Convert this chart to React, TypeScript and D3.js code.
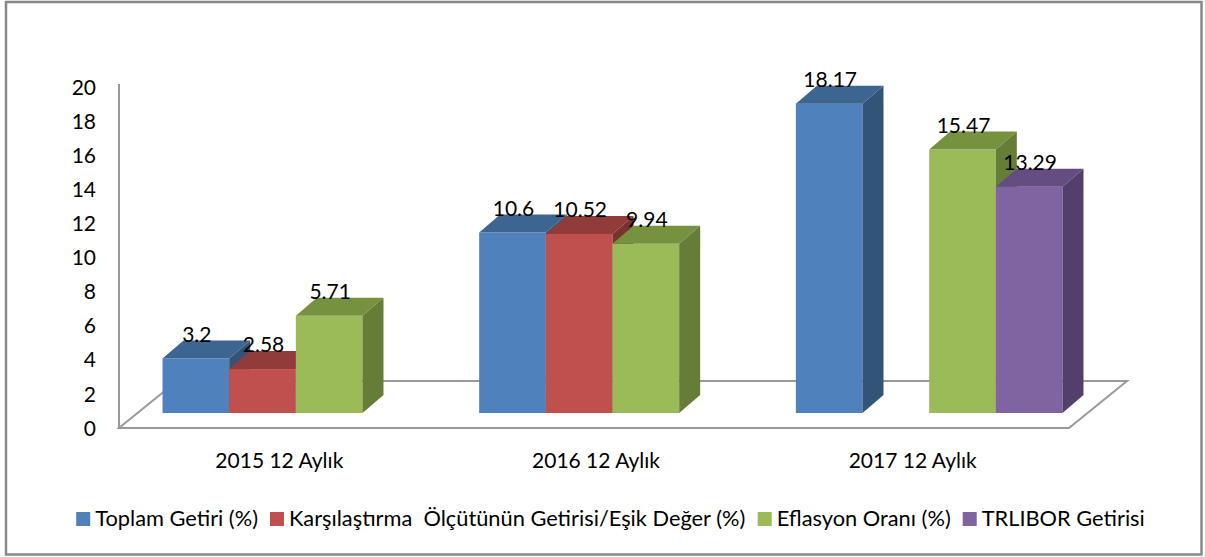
import React from "react";
import * as d3 from "d3";

const categories = ["2015 12 Aylık", "2016 12 Aylık", "2017 12 Aylık"];
const seriesNames = [
  "Toplam Getiri (%)",
  "Karşılaştırma  Ölçütünün Getirisi/Eşik Değer (%)",
  "Eflasyon Oranı (%)",
  "TRLIBOR Getirisi",
];
const toplamGetiri: (number | null)[] = [3.2, 10.6, 18.17];
const karsilastirma: (number | null)[] = [2.58, 10.52, null];
const eflasyon: (number | null)[] = [5.71, 9.94, 15.47];
const trlibor: (number | null)[] = [null, null, 13.29];
const seriesValues = [toplamGetiri, karsilastirma, eflasyon, trlibor];
const tickValues = [0, 2, 4, 6, 8, 10, 12, 14, 16, 18, 20];

const frontColors = ["#4F81BD", "#C0504D", "#9BBB59", "#8064A2"];
const topColors = ["#3D6592", "#913C3A", "#77923F", "#644E81"];
const sideColors = ["#335479", "#7A3230", "#657D36", "#52406A"];

const FONT = "Lato, 'Open Sans', sans-serif";
const FS_LABEL = 21;
const FS_TICK = 21;
const FS_CAT = 21;
const FS_LEG = 21.8;

function measure(text: string, size: number) {
  const c = document.createElement("canvas");
  const ctx = c.getContext("2d")!;
  ctx.font = `${size}px Lato`;
  return ctx.measureText(text).width;
}

export default function App() {
  const W = 1205;
  const H = 557;
  const xCat = d3
    .scaleBand<string>()
    .domain(categories)
    .range([137.5, 1087.5])
    .paddingInner(0.158)
    .paddingOuter(0.079);
  const xSer = d3
    .scaleBand<string>()
    .domain(seriesNames)
    .range([0, xCat.bandwidth()])
    .padding(0);
  const yBar = d3.scaleLinear().domain([0, 20]).range([413, 72.5]);
  const yAxis = d3.scaleLinear().domain([0, 20]).range([428, 87.5]);

  const dx = 21;
  const dy = -18;
  const base = yBar(0);
  const fl = 137.5 - 18.5;
  const fr = 1087.5 - 18.5;
  const ff = base + 15;
  const bl = 137.5 + 39.5;
  const br = 1087.5 + 39.5;
  const bb = base - 32;

  const bars: JSX.Element[] = [];
  const labels: JSX.Element[] = [];
  categories.forEach((cat, ci) => {
    seriesNames.forEach((s, si) => {
      const v = seriesValues[si][ci];
      if (v == null) return;
      const x0 = (xCat(cat) as number) + (xSer(s) as number);
      const w = xSer.bandwidth();
      const yt = yBar(v);
      const key = `${ci}-${si}`;
      bars.push(
        <g key={key}>
          <rect x={x0} y={yt} width={w} height={base - yt} fill={frontColors[si]} />
          <polygon
            points={`${x0},${yt} ${x0 + dx},${yt + dy} ${x0 + w + dx},${yt + dy} ${x0 + w},${yt}`}
            fill={topColors[si]}
          />
          <polygon
            points={`${x0 + w},${yt} ${x0 + w + dx},${yt + dy} ${x0 + w + dx},${base + dy} ${x0 + w},${base}`}
            fill={sideColors[si]}
          />
        </g>
      );
      labels.push(
        <text
          key={"l" + key}
          x={x0 + w / 2 + 1}
          y={yt + dy + 1}
          textAnchor="middle"
          fontSize={FS_LABEL}
          fontFamily={FONT}
          fill="#000"
        >
          {String(v)}
        </text>
      );
    });
  });

  const sq = 14;
  const gapSqText = 5;
  const gapItem = 12;
  const widths = seriesNames.map((n) => measure(n, FS_LEG));
  const total =
    widths.reduce((a, b) => a + b, 0) +
    seriesNames.length * (sq + gapSqText) +
    (seriesNames.length - 1) * gapItem;
  let lx = 610.5 - total / 2;
  const legend = seriesNames.map((n, i) => {
    const x = lx;
    lx += sq + gapSqText + widths[i] + gapItem;
    return (
      <g key={"lg" + i}>
        <rect x={x} y={512} width={sq} height={sq} fill={frontColors[i]} />
        <text
          x={x + sq + gapSqText}
          y={526}
          fontSize={FS_LEG}
          fontFamily={FONT}
          fill="#000"
          style={{ whiteSpace: "pre" }}
        >
          {n}
        </text>
      </g>
    );
  });

  return (
    <svg
      width={W}
      height={H}
      style={{ position: "absolute", left: 0, top: 0, background: "#fff" }}
    >
      <rect x={6} y={2} width={1195.5} height={552.5} fill="#fff" stroke="#898989" strokeWidth={2.5} />
      <polygon
        points={`${fl},${ff} ${fr},${ff} ${br},${bb} ${bl},${bb}`}
        fill="none"
        stroke="#9a9a9a"
        strokeWidth={2}
      />
      <line x1={fl} y1={ff} x2={fl} y2={84} stroke="#9a9a9a" strokeWidth={2} />
      {tickValues.map((t) => (
        <text
          key={"t" + t}
          x={96}
          y={yAxis(t)}
          dy="0.36em"
          textAnchor="end"
          fontSize={FS_TICK}
          fontFamily={FONT}
          fill="#000"
        >
          {t}
        </text>
      ))}
      {bars}
      {labels}
      {categories.map((c) => (
        <text
          key={"c" + c}
          x={(xCat(c) as number) + xCat.bandwidth() / 2 - 16.5}
          y={468}
          textAnchor="middle"
          fontSize={FS_CAT}
          fontFamily={FONT}
          fill="#000"
        >
          {c}
        </text>
      ))}
      {legend}
    </svg>
  );
}
